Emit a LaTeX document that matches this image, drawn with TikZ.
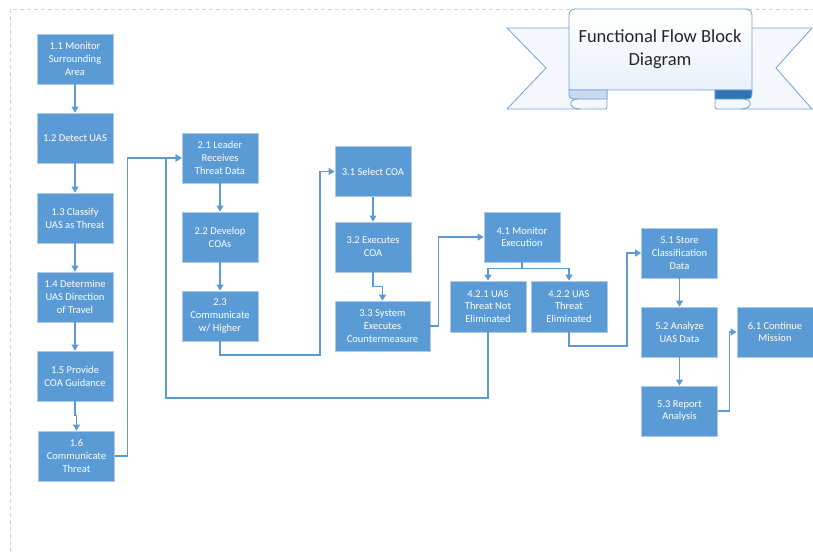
\documentclass[tikz,border=0pt]{standalone}
\usepackage{fontspec}
\setmainfont{Carlito}
\usepackage{tikz}
\usetikzlibrary{calc,arrows.meta}

\definecolor{boxfill}{HTML}{5B9BD5}
\definecolor{boxline}{HTML}{AFC8E4}
\definecolor{flowline}{HTML}{5B9BD5}
\definecolor{frameline}{HTML}{D4D4D4}
\definecolor{ribline}{HTML}{6FA3D8}
\definecolor{ribfill}{HTML}{F4F7FC}
\definecolor{ribpanel}{HTML}{E9F0F9}
\definecolor{curlleft}{HTML}{C9D9EF}
\definecolor{curlright}{HTML}{2E75B6}
\definecolor{titletext}{HTML}{262626}

\tikzset{
  block/.style = {draw = boxline, line width = 0.8pt, fill = boxfill, text = white,
    minimum width = 76pt, minimum height = 50pt, inner sep = 1pt, align = center,
    font = \fontsize{10.5}{12.8}\selectfont},
  flow/.style = {draw = flowline, line width = 1.1pt, -{Triangle[width=7pt,length=6pt]}},
  link/.style = {draw = flowline, line width = 1.1pt},
}

\begin{document}
\begin{tikzpicture}[x = 1pt, y = -1pt]
    \useasboundingbox (0,0) rectangle (813,552);
    % frame
    \path[draw, frameline, line width = 0.8pt, dash pattern = on 4pt off 3pt](10,552)--(10,9)--(813,9);
    % banner tails
    \path[draw = ribline, fill = ribfill, line width = 0.8pt](507,28)--(607,28)--(607,104) .. controls (607,109) .. (602,109)--(507,109)--(546,68)--cycle;
    \path[draw = ribline, fill = ribfill, line width = 0.8pt](812,28)--(715,28)--(715,104) .. controls (715,109) .. (720,109)--(812,109)--(776,68)--cycle;
    % banner panel
    \path[draw = ribline, line width = 0.8pt, top color = white, bottom color = ribpanel](569,90)[rounded corners = 6pt]--(569,9)--(752,9)[sharp corners]--(752,90)--cycle;
    % curls
    \path[draw = ribline, fill = curlleft, line width = 0.8pt](569,90) .. controls (569,99) .. (578,99)--(607,99)--(607,90)--cycle;
    \path[draw = ribline, line width = 0.8pt](578,99) .. controls (568,99) and (568,109) .. (580,109);
    \path[draw = ribline, fill = curlright, line width = 0.8pt](752,90) .. controls (752,99) .. (743,99)--(715,99)--(715,90)--cycle;
    \path[draw = ribline, line width = 0.8pt](743,99) .. controls (753,99) and (753,109) .. (741,109);
    \node[text = titletext, align = center, font = \fontsize{18.5}{23}\selectfont](title)at(660,49){Functional Flow Block\\Diagram};
    % column 1
    \node[block](n11)at(75,59){1.1 Monitor\\Surrounding\\Area};
    \node[block](n12)at(75,138){1.2 Detect UAS};
    \node[block](n13)at(75,218){1.3 Classify\\UAS as Threat};
    \node[block](n14)at(75,297){1.4 Determine\\UAS Direction\\of Travel};
    \node[block](n15)at(75,376){1.5 Provide\\COA Guidance};
    \node[block](n16)at(76.5,456){1.6\\Communicate\\Threat};
    % column 2
    \node[block](n21)at(220,158){2.1 Leader\\Receives\\Threat Data};
    \node[block](n22)at(220,237){2.2 Develop\\COAs};
    \node[block](n23)at(220,316){2.3\\Communicate\\w/ Higher};
    % column 3
    \node[block](n31)at(373,171.5){3.1 Select COA};
    \node[block](n32)at(373,247){3.2 Executes\\COA};
    \node[block, minimum width = 95pt](n33)at(382.5,326){3.3 System\\Executes\\Countermeasure};
    % column 4
    \node[block](n41)at(522,237){4.1 Monitor\\Execution};
    \node[block, minimum height = 51pt](n421)at(488,306.5){4.2.1 UAS\\Threat Not\\Eliminated};
    \node[block, minimum height = 51pt](n422)at(569,306.5){4.2.2 UAS\\Threat\\Eliminated};
    % column 5
    \node[block](n51)at(679.5,253){5.1 Store\\Classification\\Data};
    \node[block](n52)at(679.5,332){5.2 Analyze\\UAS Data};
    \node[block](n53)at(679.5,411){5.3 Report\\Analysis};
    \node[block](n61)at(775,332){6.1 Continue\\Mission};
    % flow
    \path[flow](n11)to(n12);
    \path[flow](n12)to(n13);
    \path[flow](n13)to(n14);
    \path[flow](n14)to(n15);
    \path[flow](n15.south)--++(0,14)-|(n16.north);
    \path[flow](n16.east)--++(13,0)|-(n21.west);
    \coordinate(back)at(166,398);
    \path[flow](n421.south)|-(back)|-(n21.west);
    \path[flow](n21)to(n22);
    \path[flow](n22)to(n23);
    \coordinate(up3)at(320,355);
    \path[flow](n23.south)|-(up3)|-(n31.west);
    \path[flow](n31)to(n32);
    \path[flow](n32.south)--++(0,14)-|(n33.north);
    \path[flow](n33.east)--++(8,0)|-(n41.west);
    \path[link](n41.south)--++(0,6)coordinate(split);
    \path[flow](split)-|(n421.north);
    \path[flow](split)-|(n422.north);
    \coordinate(up5)at(627,346);
    \path[flow](n422.south)|-(up5)|-(n51.west);
    \path[flow](n51)to(n52);
    \path[flow](n52)to(n53);
    \path[flow](n53.east)--++(12,0)|-(n61.west);
\end{tikzpicture}
\end{document}
